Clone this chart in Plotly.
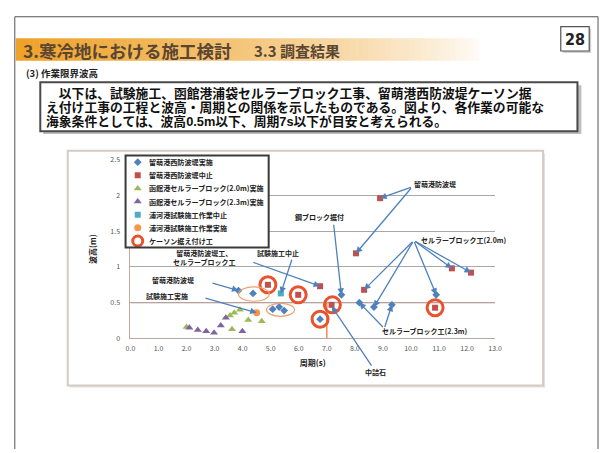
import plotly.graph_objects as go

W, H = 606, 453
FONT = "Noto Sans CJK JP"
BODY_FONT = "Liberation Sans, Noto Sans CJK JP"


def px(x):
    return x / W


def py(y):
    return 1 - y / H


# ---------------- data ----------------
x_tick_vals = [0, 1, 2, 3, 4, 5, 6, 7, 8, 9, 10, 11, 12, 13]
x_tick_text = ["0.0", "1.0", "2.0", "3.0", "4.0", "5.0", "6.0", "7.0",
               "8.0", "9.0", "10.0", "11.0", "12.0", "13.0"]
y_tick_vals = [0, 0.5, 1, 1.5, 2, 2.5]
y_tick_text = ["0", "0.5", "1", "1.5", "2", "2.5"]

series_names = [
    "留萌港西防波堤実施",
    "留萌港西防波堤中止",
    "函館港セルラーブロック(2.0m)実施",
    "函館港セルラーブロック(2.3m)実施",
    "浦河港試験施工作業中止",
    "浦河港試験施工作業実施",
    "ケーソン据え付け工",
]

# period (s) / wave height (m) per series
done_period = [3.85, 4.37, 5.07, 5.3, 5.48, 6.76, 7.52, 8.16, 8.68, 9.32, 10.9]
done_height = [0.67, 0.63, 0.41, 0.44, 0.39, 0.27, 0.61, 0.50, 0.44, 0.47, 0.61]

stop_period = [8.9, 8.04, 6.76, 8.33, 11.46, 12.14, 10.86, 7.17, 4.9, 5.98]
stop_height = [1.96, 1.19, 0.73, 0.68, 0.98, 0.92, 0.43, 0.47, 0.75, 0.61]

cell20_period = [2.0, 3.55, 3.7, 3.9, 3.62, 4.2, 4.68]
cell20_height = [0.16, 0.32, 0.36, 0.40, 0.13, 0.26, 0.24]

cell23_period = [2.1, 2.4, 2.7, 2.98, 3.22, 3.4, 3.99]
cell23_height = [0.15, 0.12, 0.10, 0.08, 0.18, 0.29, 0.10]

trial_stop_period = [5.36]
trial_stop_height = [0.63]

trial_done_period = [4.5]
trial_done_height = [0.36]

caisson_period = [4.9, 5.98, 7.2, 6.76, 10.86]
caisson_height = [0.75, 0.61, 0.47, 0.27, 0.43]

# workable limits
limit_height = 0.5
limit_period = 7.0

# highlighted groups: centre period, centre height, half-width, half-height
highlight_period = [4.4, 5.35]
highlight_height = [0.62, 0.40]
highlight_dx = [0.55, 0.5]
highlight_dy = [0.10, 0.09]

# callouts: label text, label position, arrow tail, arrow heads
callout_text = [
    "留萌港防波堤",
    "鋼ブロック据付",
    "セルラーブロック工(2.0m)",
    "セルラーブロック工(2.3m)",
    "中詰石",
    "試験施工中止",
    "留萌港防波堤工、<br>セルラーブロック工",
    "留萌港防波堤",
    "試験施工実施",
]
callout_label_xy = [
    (10.85, 2.16), (6.75, 1.70), (11.9, 1.37), (10.5, 0.11),
    (8.75, -0.47), (5.25, 1.19), (2.65, 1.13), (1.5, 0.82), (1.3, 0.60),
]
callout_tail_xy = [
    (10.05, 2.12), (7.24, 1.61), (10.1, 1.37), (9.05, 0.14),
    (8.75, -0.47), (5.77, 1.12), (4.33, 1.07), (2.87, 0.78), (2.62, 0.57),
]
callout_heads = [
    [(8.9, 1.96), (8.04, 1.19)],
    [(7.52, 0.61)],
    [(8.33, 0.68), (8.68, 0.44), (10.9, 0.61), (11.46, 0.98), (12.14, 0.92)],
    [(8.16, 0.50), (9.32, 0.47)],
    [(7.17, 0.45)],
    [(5.36, 0.63)],
    [(6.76, 0.73)],
    [(3.85, 0.67)],
    [(4.5, 0.36)],
]

# slide text
page_no = "28"
title_main = "3.寒冷地における施工検討"
title_sub = "3.3 調査結果"
section = "(3) 作業限界波高"
body_lines = [
    "　以下は、試験施工、函館港浦袋セルラーブロック工事、留萌港西防波堤ケーソン据",
    "え付け工事の工程と波高・周期との関係を示したものである。図より、各作業の可能な",
    "海象条件としては、波高0.5m以下、周期7s以下が目安と考えられる。",
]
x_title = "周期(s)"
y_title = "波高(m)"

# ---------------- styles ----------------
styles = [
    dict(symbol="diamond", size=6, color="#4f81bd", line=dict(width=0)),
    dict(symbol="square", size=6, color="#c0504d", line=dict(width=0)),
    dict(symbol="triangle-up", size=7, color="#9bbb59", line=dict(width=0)),
    dict(symbol="triangle-up", size=7, color="#8064a2", line=dict(width=0)),
    dict(symbol="square", size=6, color="#4bacc6", line=dict(width=0)),
    dict(symbol="circle", size=7, color="#f79646", line=dict(width=0)),
    dict(symbol="circle-open", size=16, color="#e8532c", line=dict(width=3, color="#e8532c")),
]
series_xy = [
    (done_period, done_height),
    (stop_period, stop_height),
    (cell20_period, cell20_height),
    (cell23_period, cell23_height),
    (trial_stop_period, trial_stop_height),
    (trial_done_period, trial_done_height),
    (caisson_period, caisson_height),
]

traces = []
shapes = []
annotations = []

# scatter series (rings first so the squares sit inside them)
draw_order = [6, 2, 3, 0, 4, 5, 1]
for i in draw_order:
    xs, ys = series_xy[i]
    traces.append(go.Scatter(
        x=xs, y=ys, mode="markers", name=series_names[i],
        marker=styles[i], showlegend=False, hoverinfo="x+y+name",
        cliponaxis=False,
    ))

# ---- hand-built legend box on its own small subplot ----
traces.append(go.Scatter(
    x=[0, 1, 1, 0, 0], y=[0, 0, 7, 7, 0], mode="lines", fill="toself",
    fillcolor="white", line=dict(width=0, color="white"),
    xaxis="x2", yaxis="y2", showlegend=False, hoverinfo="skip",
))
for i, name in enumerate(series_names):
    st = dict(styles[i])
    if i == 6:
        st = dict(symbol="circle-open", size=10, color="#e8532c",
                  line=dict(width=3, color="#e8532c"))
    traces.append(go.Scatter(
        x=[0.085], y=[i + 0.5], mode="markers", marker=st,
        xaxis="x2", yaxis="y2", showlegend=False, hoverinfo="skip",
    ))
    annotations.append(dict(
        x=0.15, y=i + 0.5, xref="x2", yref="y2", text=name,
        showarrow=False, xanchor="left", yanchor="middle",
        font=dict(family=FONT, size=7.1, color="#222", weight="bold"),
    ))

# limit lines
shapes.append(dict(type="line", xref="x", yref="y", x0=0, x1=13,
                   y0=limit_height, y1=limit_height,
                   line=dict(color="#e0705e", width=1.3), layer="below"))
shapes.append(dict(type="line", xref="x", yref="y", x0=limit_period, x1=limit_period,
                   y0=0, y1=limit_height,
                   line=dict(color="#f08a50", width=1.5), layer="below"))

# highlighted groups
for cx, cy, dx, dy in zip(highlight_period, highlight_height, highlight_dx, highlight_dy):
    shapes.append(dict(type="circle", xref="x", yref="y",
                       x0=cx - dx, x1=cx + dx, y0=cy - dy, y1=cy + dy,
                       line=dict(color="#f0a070", width=1.2)))

# legend border
shapes.append(dict(type="rect", xref="paper", yref="paper",
                   x0=px(123), x1=px(269), y0=py(247), y1=py(153),
                   line=dict(color="#3a3a3a", width=2), layer="above"))

# slide frame
for x0, y0, x1, y1 in [(10, 11, 10, 453), (10, 11, 605, 11), (605, 11, 605, 453)]:
    shapes.append(dict(type="line", xref="paper", yref="paper",
                       x0=px(x0), x1=px(x1), y0=py(y0), y1=py(y1),
                       line=dict(color="#555", width=1)))

# title band: orange fading to white
n_steps = 80
x_start, x_end = 11, 490
for k in range(n_steps):
    t = k / (n_steps - 1)
    a = (1 - t) ** 0.75
    r = int(255 - (255 - 238) * a)
    g = int(255 - (255 - 162) * a)
    b = int(255 - (255 - 40) * a)
    xa = x_start + (x_end - x_start) * k / n_steps
    xb = x_start + (x_end - x_start) * (k + 1) / n_steps + 0.5
    shapes.append(dict(type="rect", xref="paper", yref="paper",
                       x0=px(xa), x1=px(xb), y0=py(56), y1=py(33),
                       fillcolor=f"rgb({r},{g},{b})", line=dict(width=0),
                       layer="below"))

# page number box (with soft shadow)
shapes.append(dict(type="rect", xref="paper", yref="paper",
                   x0=px(569), x1=px(598), y0=py(48), y1=py(23),
                   fillcolor="#cfcfcf", line=dict(width=0), layer="below"))
shapes.append(dict(type="rect", xref="paper", yref="paper",
                   x0=px(567), x1=px(596), y0=py(46), y1=py(21),
                   fillcolor="white", line=dict(color="#555", width=1.2), layer="below"))

# body text box (with shadow)
shapes.append(dict(type="rect", xref="paper", yref="paper",
                   x0=px(39), x1=px(588), y0=py(131), y1=py(81),
                   fillcolor="#bdbdbd", line=dict(width=0), layer="below"))
shapes.append(dict(type="rect", xref="paper", yref="paper",
                   x0=px(36), x1=px(584), y0=py(128), y1=py(78),
                   fillcolor="white", line=dict(color="#4a4a4a", width=2), layer="below"))

# chart frame (with faint shadow)
shapes.append(dict(type="rect", xref="paper", yref="paper",
                   x0=px(66), x1=px(551), y0=py(390), y1=py(151),
                   fillcolor="#e6e2df", line=dict(width=0), layer="below"))
shapes.append(dict(type="rect", xref="paper", yref="paper",
                   x0=px(64), x1=px(549), y0=py(388), y1=py(148),
                   fillcolor="white", line=dict(color="#d2cbc6", width=2), layer="below"))

# slide texts
annotations.append(dict(x=px(16), y=py(45), xref="paper", yref="paper",
                        text=title_main, showarrow=False, xanchor="left", yanchor="middle",
                        font=dict(family=FONT, size=17.5, color="#5a4632", weight="bold")))
annotations.append(dict(x=px(252), y=py(45), xref="paper", yref="paper",
                        text=title_sub, showarrow=False, xanchor="left", yanchor="middle",
                        font=dict(family=FONT, size=15, color="#5a4632", weight="bold")))
annotations.append(dict(x=px(581.5), y=py(34), xref="paper", yref="paper",
                        text=page_no, showarrow=False, xanchor="center", yanchor="middle",
                        font=dict(family="Liberation Sans Narrow, DejaVu Sans Condensed, sans-serif",
                                  size=16, color="#222", weight="bold")))
annotations.append(dict(x=px(19), y=py(69), xref="paper", yref="paper",
                        text=section, showarrow=False, xanchor="left", yanchor="middle",
                        font=dict(family=FONT, size=9.5, color="#222", weight="bold")))
body_y = [89, 103.5, 118]
for line, by in zip(body_lines, body_y):
    annotations.append(dict(x=px(41), y=py(by), xref="paper", yref="paper",
                            text=line, showarrow=False, borderpad=0,
                            xanchor="left", yanchor="middle", align="left",
                            font=dict(family=BODY_FONT, size=12.8, color="#111", weight="bold")))

# callout labels and arrows
label_font = dict(family=FONT, size=7, color="#222", weight="bold")
for text, (lx, ly), (tx, ty), heads in zip(callout_text, callout_label_xy,
                                            callout_tail_xy, callout_heads):
    if (tx, ty) == (lx, ly):
        # the arrow starts at the label itself
        for n, (hx, hy) in enumerate(heads):
            annotations.append(dict(x=hx, y=hy, xref="x", yref="y",
                                    ax=tx, ay=ty, axref="x", ayref="y",
                                    text=text if n == 0 else "", font=label_font,
                                    showarrow=True, arrowhead=2, arrowsize=1,
                                    arrowwidth=1.3, arrowcolor="#4f81bd"))
        continue
    annotations.append(dict(x=lx, y=ly, xref="x", yref="y", text=text,
                            showarrow=False, xanchor="center", yanchor="middle",
                            font=label_font))
    for hx, hy in heads:
        annotations.append(dict(x=hx, y=hy, xref="x", yref="y",
                                ax=tx, ay=ty, axref="x", ayref="y", text="",
                                showarrow=True, arrowhead=2, arrowsize=1,
                                arrowwidth=1.3, arrowcolor="#4f81bd"))

layout = go.Layout(
    width=W, height=H,
    margin=dict(l=0, r=0, t=0, b=0),
    paper_bgcolor="white",
    plot_bgcolor="rgba(0,0,0,0)",
    showlegend=False,
    font=dict(family=FONT, size=7, color="#444"),
    shapes=shapes,
    annotations=annotations,
    xaxis=dict(
        domain=[px(128), px(500)], range=[0, 13],
        tickvals=x_tick_vals, ticktext=x_tick_text,
        showgrid=False, zeroline=False,
        showline=True, linecolor="#b8a8a4", linewidth=1,
        ticks="", ticklabelstandoff=3, tickfont=dict(size=7, color="#555"),
        title=dict(text=x_title, standoff=8,
                   font=dict(family=FONT, size=8, color="#222", weight="bold")),
    ),
    yaxis=dict(
        domain=[py(340), py(157)], range=[0, 2.5],
        tickvals=y_tick_vals, ticktext=y_tick_text,
        showgrid=True, gridcolor="#a8a8a8", gridwidth=1,
        zeroline=False, showline=True, linecolor="#c8a8a0", linewidth=1,
        ticks="", ticklabelstandoff=8, tickfont=dict(size=7, color="#555"),
        title=dict(text=y_title, standoff=12,
                   font=dict(family=FONT, size=8, color="#222", weight="bold")),
    ),
    xaxis2=dict(domain=[px(123), px(269)], range=[0, 1], visible=False, anchor="y2"),
    yaxis2=dict(domain=[py(247), py(153)], range=[7, 0], visible=False, anchor="x2"),
)

fig = go.Figure(data=traces, layout=layout)
fig.write_html("out.html")
